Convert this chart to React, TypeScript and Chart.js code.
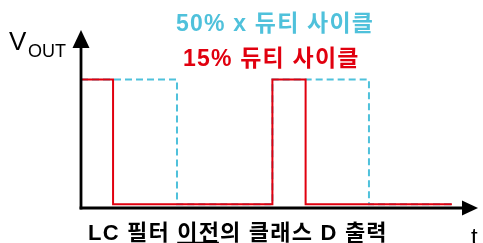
import React, { useEffect, useRef } from "react";
import { Chart, registerables } from "chart.js";

Chart.register(...registerables);

// 15% duty cycle (red, solid)
const redTime = [0, 1.67, 1.67, 9.97, 9.97, 11.7, 11.7, 19.32];
const redLevel = [1, 1, 0.03, 0.03, 1, 1, 0.03, 0.03];
// 50% duty cycle (cyan, dashed)
const cyanTime = [0, 5, 5, 9.97, 9.97, 15, 15, 19.32];
const cyanLevel = [1, 1, 0.03, 0.03, 1, 1, 0.03, 0.03];

const cyanTitle = "50% x 듀티 사이클";
const redTitle = "15% 듀티 사이클";
const bottomPre = "LC 필터 ";
const bottomUnder = "이전";
const bottomPost = "의 클래스 D 출력";
const yLabelMain = "V";
const yLabelSub = "OUT";
const xLabel = "t";

const RED = "#e1000f";
const CYAN = "#4fc1db";
const FONT = "'Liberation Sans', Arial, 'Noto Sans CJK KR', sans-serif";

const toPoints = (xs: number[], ys: number[]) => xs.map((x, i) => ({ x, y: ys[i] }));

const overlay = {
  id: "overlay",
  afterDraw(chart: any) {
    const { ctx, chartArea } = chart;
    const { left, right, top, bottom } = chartArea;
    ctx.save();
    ctx.fillStyle = "#000";
    ctx.strokeStyle = "#000";
    ctx.lineWidth = 2.8;
    // y axis
    ctx.beginPath();
    ctx.moveTo(left, bottom + 1.4);
    ctx.lineTo(left, top + 16);
    ctx.stroke();
    ctx.beginPath();
    ctx.moveTo(left, top);
    ctx.lineTo(left - 8.5, top + 18);
    ctx.lineTo(left + 8.5, top + 18);
    ctx.closePath();
    ctx.fill();
    // x axis
    ctx.beginPath();
    ctx.moveTo(left - 1.4, bottom);
    ctx.lineTo(right - 14, bottom);
    ctx.stroke();
    ctx.beginPath();
    ctx.moveTo(right, bottom);
    ctx.lineTo(right - 16, bottom - 7.5);
    ctx.lineTo(right - 16, bottom + 7.5);
    ctx.closePath();
    ctx.fill();

    // Y label
    ctx.textBaseline = "alphabetic";
    ctx.textAlign = "left";
    ctx.font = `26px ${FONT}`;
    ctx.fillText(yLabelMain, 9, 50);
    ctx.font = `18px ${FONT}`;
    ctx.fillText(yLabelSub, 28, 57);

    // x label
    ctx.font = `24px ${FONT}`;
    ctx.fillText(xLabel, 471, 245);

    // Titles
    ctx.font = `bold 23px ${FONT}`;
    (ctx as any).letterSpacing = "1.2px";
    ctx.fillStyle = CYAN;
    ctx.fillText(cyanTitle, 176, 31);
    ctx.fillStyle = RED;
    ctx.fillText(redTitle, 183, 66);

    // Bottom caption
    ctx.fillStyle = "#000";
    ctx.font = `bold 22px ${FONT}`;
    let x = 88;
    const by = 240;
    ctx.fillText(bottomPre, x, by);
    x += ctx.measureText(bottomPre).width;
    ctx.fillText(bottomUnder, x, by);
    const uw = ctx.measureText(bottomUnder).width;
    ctx.lineWidth = 1.5;
    ctx.beginPath();
    ctx.moveTo(x, by + 2.5);
    ctx.lineTo(x + uw - 1.2, by + 2.5);
    ctx.stroke();
    x += uw;
    ctx.fillText(bottomPost, x, by);
    (ctx as any).letterSpacing = "0px";
    ctx.restore();
  },
};

export default function App() {
  const ref = useRef<HTMLCanvasElement>(null);
  useEffect(() => {
    document.body.style.margin = "0";
    const chart = new Chart(ref.current!, {
      type: "line",
      data: {
        datasets: [
          {
            data: toPoints(redTime, redLevel),
            borderColor: RED,
            borderWidth: 2,
            pointRadius: 0,
            tension: 0,
            fill: false,
          },
          {
            data: toPoints(cyanTime, cyanLevel),
            borderColor: CYAN,
            borderWidth: 2,
            borderDash: [7, 4],
            pointRadius: 0,
            tension: 0,
            fill: false,
          },
        ],
      },
      options: {
        animation: false,
        responsive: false,
        layout: { padding: { left: 81, right: 5, top: 30, bottom: 35 } },
        plugins: { legend: { display: false }, tooltip: { enabled: false } },
        scales: {
          x: { type: "linear", display: false, min: 0, max: 20.68 },
          y: { display: false, min: 0, max: 1.385 },
        },
      },
      plugins: [overlay],
    });
    return () => chart.destroy();
  }, []);
  return (
    <div style={{ position: "absolute", left: 0, top: 0, width: 483, height: 243, background: "#fff" }}>
      <canvas ref={ref} width={483} height={243} />
    </div>
  );
}
